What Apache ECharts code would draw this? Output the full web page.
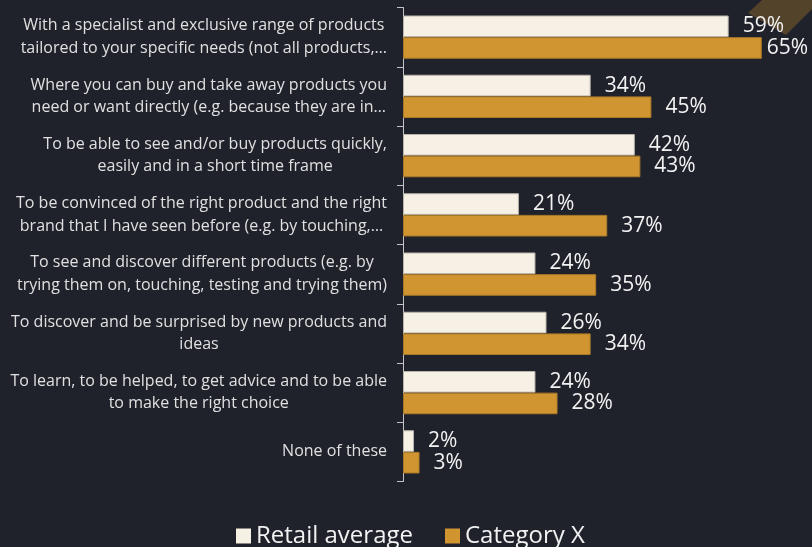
<!DOCTYPE html>
<html>
<head>
<meta charset="utf-8">
<style>
  html, body { margin: 0; padding: 0; background: #1f212b; }
  #chart { width: 812px; height: 547px; }
</style>
<script src="https://cdn.jsdelivr.net/npm/echarts@6/dist/echarts.min.js"></script>
</head>
<body>
<div id="chart"></div>
<script>
// Reasons for choosing a physical store, retail average vs. Category X (%)
const categories = [
  'With a specialist and exclusive range of products\ntailored to your specific needs (not all products,…',
  'Where you can buy and take away products you\nneed or want directly (e.g. because they are in…',
  'To be able to see and/or buy products quickly,\neasily and in a short time frame',
  'To be convinced of the right product and the right\nbrand that I have seen before (e.g. by touching,…',
  'To see and discover different products (e.g. by\ntrying them on, touching, testing and trying them)',
  'To discover and be surprised by new products and\nideas',
  'To learn, to be helped, to get advice and to be able\nto make the right choice',
  'None of these'
];
const retailAverage = [59, 34, 42, 21, 24, 26, 24, 2];
const categoryX = [65, 45, 43, 37, 35, 34, 28, 3];
const seriesNames = ['Retail average', 'Category X'];

const FONT = '"Open Sans", "Noto Sans", sans-serif';
const CREAM = '#f6f0e5';
const GOLD = '#d09430';

const chart = echarts.init(document.getElementById('chart'), null, { renderer: 'canvas' });

function valueLabel(distance) {
  return {
    show: true,
    position: 'right',
    distance: distance,
    formatter: '{c}%',
    color: '#f2f2f2',
    fontFamily: FONT,
    fontSize: 21
  };
}

// the widest value is pulled in a little so it stays inside the canvas
const maxX = Math.max(...categoryX);
const goldData = categoryX.map(v => v === maxX ? { value: v, label: valueLabel(5) } : v);

chart.setOption({
  backgroundColor: '#1f212b',
  animation: false,
  textStyle: { fontFamily: FONT },
  graphic: [{
    type: 'polygon',
    shape: { points: [[748, 13], [762, 0], [812, 0], [812, 9], [786, 35]] },
    style: { fill: '#54432b' },
    z: -1
  }],
  legend: {
    data: seriesNames,
    left: 236,
    top: 524,
    padding: 0,
    itemGap: 32,
    itemWidth: 15,
    itemHeight: 15,
    icon: 'rect',
    itemStyle: { borderWidth: 0 },
    textStyle: { color: '#f2f2f2', fontFamily: FONT, fontSize: 24 }
  },
  grid: { left: 403, top: 7.5, height: 474, width: 386.4, containLabel: false },
  xAxis: {
    type: 'value',
    min: 0,
    max: 70,
    show: false
  },
  yAxis: {
    type: 'category',
    inverse: true,
    data: categories,
    axisLine: { show: true, lineStyle: { color: '#c4c4c4', width: 1 } },
    axisTick: { show: true, length: 6, lineStyle: { color: '#c4c4c4' } },
    splitLine: { show: false },
    axisLabel: {
      margin: 16,
      formatter: v => v.split('\n').map(line => '{c|' + line + '}').join('\n'),
      rich: {
        c: {
          align: 'center',
          color: '#e0e0e0',
          fontFamily: FONT,
          fontSize: 16,
          lineHeight: 22.5
        }
      }
    }
  },
  series: [
    {
      name: seriesNames[0],
      type: 'bar',
      data: retailAverage,
      barGap: '0%',
      barCategoryGap: '27%',
      itemStyle: { color: CREAM, borderColor: '#b9b4ab', borderWidth: 1 },
      label: valueLabel(14)
    },
    {
      name: seriesNames[1],
      type: 'bar',
      data: goldData,
      barGap: '0%',
      barCategoryGap: '27%',
      itemStyle: { color: GOLD, borderColor: '#a87a27', borderWidth: 1 },
      label: valueLabel(14)
    }
  ]
});
</script>
</body>
</html>
